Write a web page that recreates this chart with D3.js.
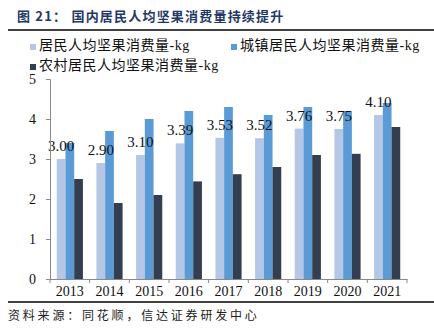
<!DOCTYPE html>
<html>
<head>
<meta charset="utf-8">
<script src="https://cdn.jsdelivr.net/npm/d3@7"></script>
<style>
  body { margin: 0; background: #fff; }
  svg text { font-family: "Liberation Serif", "Noto Sans CJK SC", serif; }
</style>
</head>
<body>
<div id="chart"></div>
<script>
// data
const years = ['2013','2014','2015','2016','2017','2018','2019','2020','2021'];
const allResidents = [3.00, 2.90, 3.10, 3.39, 3.53, 3.52, 3.76, 3.75, 4.10];
const urban = [3.4, 3.7, 4.0, 4.2, 4.3, 4.1, 4.3, 4.2, 4.4];
const rural = [2.5, 1.9, 2.1, 2.44, 2.62, 2.8, 3.1, 3.13, 3.8];
const seriesNames = ['居民人均坚果消费量-kg', '城镇居民人均坚果消费量-kg', '农村居民人均坚果消费量-kg'];
const colors = ['#b4c7e7', '#5b9bd5', '#333f50'];
const yTicks = [0, 1, 2, 3, 4, 5];

const width = 434, height = 336;
const margin = {top: 79, right: 27, bottom: 57, left: 50};

const svg = d3.select('#chart').append('svg')
  .attr('width', width).attr('height', height);

// title + rules
svg.append('text').attr('x', 17).attr('y', 21)
  .attr('font-size', 13).attr('font-weight', 'bold').attr('fill', '#1f3864')
  .attr('letter-spacing', 1.2)
  .style('font-family', '"Noto Sans CJK SC", sans-serif')
  .text('图 21： 国内居民人均坚果消费量持续提升');
svg.append('line').attr('x1', 8).attr('x2', 434).attr('y1', 30).attr('y2', 30)
  .attr('stroke', '#000').attr('stroke-width', 1.3);
svg.append('line').attr('x1', 8).attr('x2', 434).attr('y1', 302).attr('y2', 302)
  .attr('stroke', '#000').attr('stroke-width', 1.3);
svg.append('text').attr('x', 8).attr('y', 320)
  .attr('font-size', 12).attr('fill', '#222').attr('letter-spacing', 2.8)
  .style('font-family', '"Noto Sans CJK SC", sans-serif')
  .text('资料来源：同花顺，信达证券研发中心');

// legend
const legendPos = [[30, 50], [231, 50], [30, 70]];
seriesNames.forEach((name, i) => {
  const g = svg.append('g').attr('transform', `translate(${legendPos[i][0]},${legendPos[i][1]})`);
  g.append('rect').attr('x', 0).attr('y', -6).attr('width', 6).attr('height', 6).attr('fill', colors[i]);
  g.append('text').attr('x', 9).attr('y', 0).attr('font-size', 14).attr('fill', '#111')
    .attr('letter-spacing', 0.5).text(name);
});

const x = d3.scaleBand().domain(years)
  .range([margin.left, width - margin.right]).paddingInner(0.34).paddingOuter(0.17);
const x1 = d3.scaleBand().domain([0, 1, 2]).range([0, x.bandwidth()]);
const y = d3.scaleLinear().domain([0, 5]).range([height - margin.bottom, margin.top]);

const series = [allResidents, urban, rural];
series.forEach((vals, s) => {
  svg.append('g').selectAll('rect').data(vals).join('rect')
    .attr('x', (d, i) => x(years[i]) + x1(s))
    .attr('y', d => y(d))
    .attr('width', x1.bandwidth())
    .attr('height', d => y(0) - y(d))
    .attr('fill', colors[s]);
});

// value labels on the first series
svg.append('g').selectAll('text').data(allResidents).join('text')
  .attr('x', (d, i) => x(years[i]) + x1(0) + x1.bandwidth() / 2)
  .attr('y', d => y(d) - 8)
  .attr('text-anchor', 'middle').attr('font-size', 15).attr('fill', '#111')
  .text(d => d.toFixed(2));

// axes
const yAxis = svg.append('g').attr('transform', `translate(${margin.left},0)`)
  .call(d3.axisLeft(y).tickValues(yTicks).tickSize(4).tickFormat(d3.format('d')));
yAxis.selectAll('text').attr('font-size', 14).attr('fill', '#111').attr('x', -14);

const xAxis = svg.append('g').attr('transform', `translate(0,${y(0)})`)
  .call(d3.axisBottom(x).tickSize(0).tickPadding(7));
xAxis.selectAll('text').attr('font-size', 14).attr('fill', '#111');
// category boundary ticks
const step = x.step();
xAxis.selectAll('.bound').data(d3.range(years.length + 1)).join('line')
  .attr('class', 'bound')
  .attr('x1', i => margin.left + i * step).attr('x2', i => margin.left + i * step)
  .attr('y1', 0).attr('y2', 4).attr('stroke', '#898989');

svg.selectAll('.domain').attr('stroke', '#898989');
svg.selectAll('.tick line').attr('stroke', '#898989');
</script>
</body>
</html>
